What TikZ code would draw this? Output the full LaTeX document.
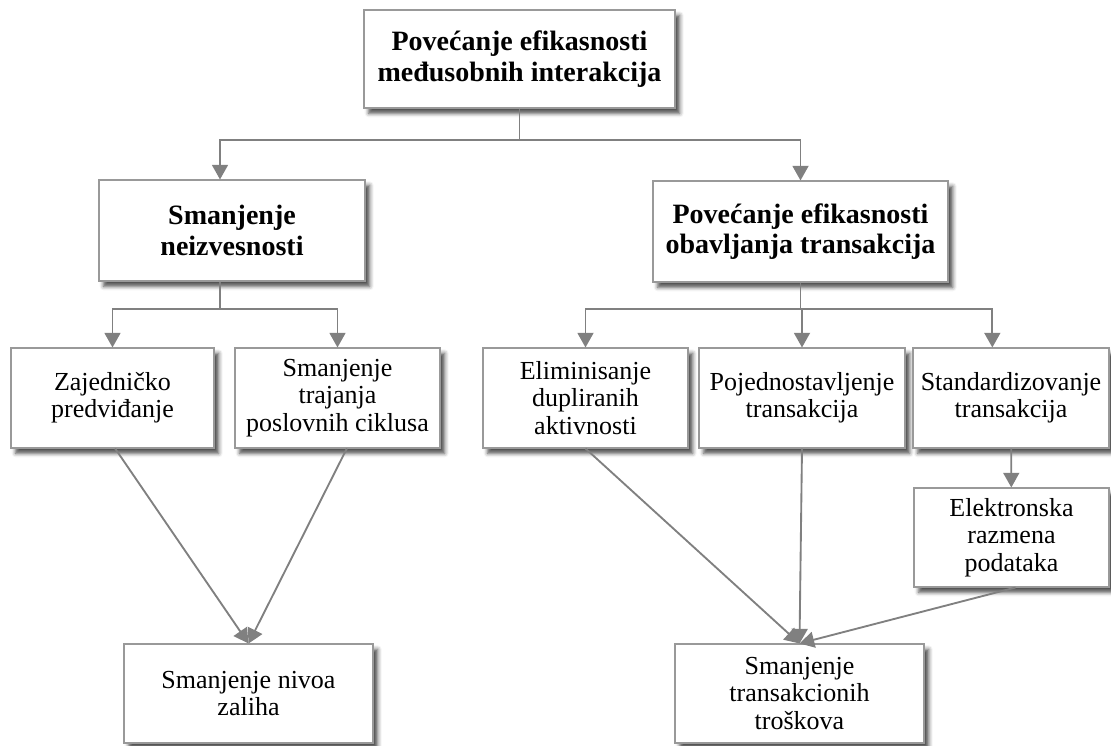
\documentclass[tikz,border=0pt]{standalone}
\usepackage{fontspec}
\setmainfont{Liberation Serif}
\usetikzlibrary{arrows.meta,shadows.blur}

\tikzset{
  sz/.style 2 args={minimum width=#1*0.75pt, minimum height=#2*0.75pt},
  box/.style={draw=black!40, line width=0.8pt, fill=white, align=center,
    inner sep=1pt, font=\fontsize{19.5}{20.5}\selectfont,
    blur shadow={shadow xshift=3.5pt, shadow yshift=-4pt,
      shadow blur radius=3pt, shadow opacity=70}},
  headbox/.style={box, font=\fontsize{21}{23}\selectfont\bfseries},
  link/.style={draw=black!50, line width=1.4pt},
  arr/.style={link, -{Triangle[length=11pt,width=12pt]}},
}

\begin{document}
\begin{tikzpicture}[x=0.75pt, y=-0.75pt]
  \useasboundingbox (0,0) rectangle (1111,746);

  % level 0
  \node[headbox, sz={311}{98}] (top) at (519.5,59)
    {Povećanje efikasnosti\\međusobnih interakcija};

  % level 1
  \node[headbox, sz={266}{101}] (lm) at (232,230.5)
    {Smanjenje\\neizvesnosti};
  \node[headbox, sz={295}{101}] (rm) at (800.5,231.5)
    {Povećanje efikasnosti\\obavljanja transakcija};

  % level 2
  \node[box, sz={203}{100}] (zp) at (112.5,398) {Zajedničko\\predviđanje};
  \node[box, sz={205}{100}] (st) at (337.5,398) {Smanjenje\\trajanja\\poslovnih ciklusa};
  \node[box, sz={205}{100}] (el) at (585.5,398) {Eliminisanje\\dupliranih\\aktivnosti};
  \node[box, sz={206}{100}] (po) at (802,398) {Pojednostavljenje\\transakcija};
  \node[box, sz={196}{100}] (sd) at (1011,398) {Standardizovanje\\transakcija};
  \node[box, sz={195}{99}] (ek) at (1011.5,537.5) {Elektronska\\razmena\\podataka};

  % results
  \node[box, sz={249}{99}] (bl) at (248.5,693.5) {Smanjenje nivoa\\zaliha};
  \node[box, sz={249}{99}] (br) at (799.5,693.5) {Smanjenje\\transakcionih\\troškova};

  % tree connectors
  \coordinate (jt) at (519.5,140);
  \draw[link] (top) -- (jt);
  \draw[arr] (jt) -| ([xshift=-9pt]lm.north);
  \draw[arr] (jt) -| (rm.north);

  \coordinate (jl) at (220,309);
  \draw[link] ([xshift=-9pt]lm.south) -- (jl);
  \draw[arr] (jl) -| (zp.north);
  \draw[arr] (jl) -| (st.north);

  \coordinate (jr) at (800.5,309);
  \draw[link] (rm) -- (jr);
  \draw[arr] (jr) -| (el.north);
  \draw[arr] (jr) -| (po.north);
  \draw[arr] (jr) -| ([xshift=-14pt]sd.north);

  \draw[arr] (sd) -- (ek);

  % converging arrows
  \draw[arr] ([xshift=2pt]zp.south) -- (bl.north);
  \draw[arr] ([xshift=7pt]st.south) -- (bl.north);
  \draw[arr] (el.south) -- (br.north);
  \draw[arr] (po.south) -- (br.north);
  \draw[arr] ([xshift=3pt]ek.south) -- (br.north);
\end{tikzpicture}
\end{document}
